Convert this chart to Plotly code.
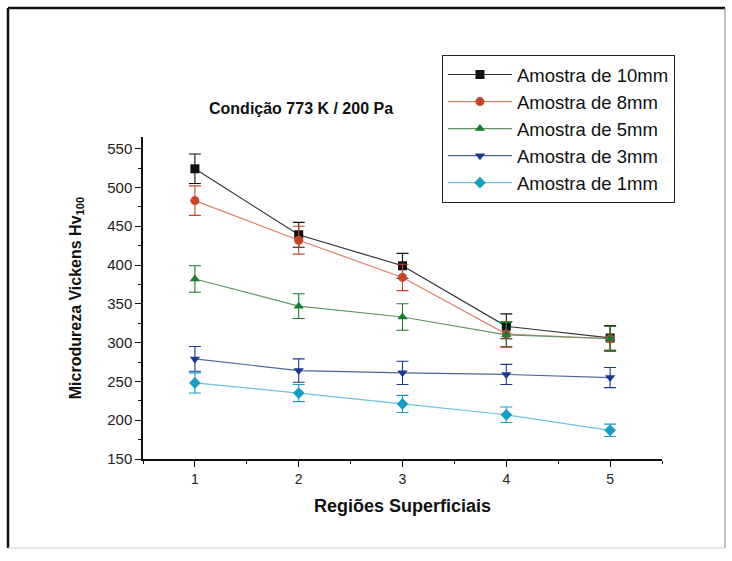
import plotly.graph_objects as go

regions = [1, 2, 3, 4, 5]
series_names = ["Amostra de 10mm", "Amostra de 8mm", "Amostra de 5mm", "Amostra de 3mm", "Amostra de 1mm"]
hv_10mm = [524, 439, 399, 321, 306]
hv_8mm = [483, 432, 384, 311, 305]
hv_5mm = [382, 347, 333, 310, 305]
hv_3mm = [279, 264, 261, 259, 255]
hv_1mm = [248, 235, 221, 207, 187]
err_10mm = [19, 16, 16, 16, 16]
err_8mm = [19, 18, 17, 16, 16]
err_5mm = [17, 16, 17, 16, 16]
err_3mm = [16, 15, 15, 13, 13]
err_1mm = [13, 11, 11, 10, 8]

values = [hv_10mm, hv_8mm, hv_5mm, hv_3mm, hv_1mm]
errors = [err_10mm, err_8mm, err_5mm, err_3mm, err_1mm]
marker_colors = ["#111111", "#c4452f", "#1d7a30", "#1b3a8c", "#1c9cc2"]
line_colors = ["#333333", "#d9826c", "#5f9668", "#4e6596", "#6cc3dc"]
symbols = ["square", "circle", "triangle-up", "triangle-down", "diamond"]

FONT = "Liberation Sans, Arial, sans-serif"

fig = go.Figure()
for i, name in enumerate(series_names):
    fig.add_trace(go.Scatter(
        x=regions, y=values[i], name=name, mode="lines+markers",
        line=dict(color=line_colors[i], width=1.2),
        marker=dict(color=marker_colors[i], symbol=symbols[i], size=9),
        error_y=dict(type="data", array=errors[i], visible=True,
                     color=marker_colors[i], thickness=1.1, width=6),
    ))

fig.update_layout(
    width=732, height=561,
    margin=dict(l=143, r=70, t=137, b=102),
    paper_bgcolor="white", plot_bgcolor="white",
    font=dict(family=FONT, color="#111111"),
    showlegend=True,
    legend=dict(
        x=0.576, y=1.2547, xanchor="left", yanchor="top",
        bgcolor="white", bordercolor="#222222", borderwidth=1,
        font=dict(family=FONT, size=18.5, color="#111111"),
        itemwidth=64, tracegroupgap=0,
    ),
    xaxis=dict(
        range=[0.5, 5.5], tickvals=regions, ticktext=[str(r) for r in regions],
        showgrid=False, zeroline=False, showline=True, linecolor="#111111", linewidth=1.5,
        ticks="outside", ticklen=6, tickwidth=1.2, tickcolor="#111111",
        minor=dict(ticks="outside", ticklen=3, tickwidth=1, tickcolor="#111111", dtick=0.5),
        tickfont=dict(size=14, color="#222222"),
        title=dict(text="<b>Regiões Superficiais</b>", font=dict(size=18, color="#111111"), standoff=14),
    ),
    yaxis=dict(
        range=[150, 565], tickvals=[150, 200, 250, 300, 350, 400, 450, 500, 550],
        showgrid=False, zeroline=False, showline=True, linecolor="#111111", linewidth=1.5,
        ticks="outside", ticklen=6, tickwidth=1.2, tickcolor="#111111",
        minor=dict(ticks="outside", ticklen=3, tickwidth=1, tickcolor="#111111", dtick=25),
        tickfont=dict(size=15, color="#222222"),
        title=dict(text="<b>Microdureza Vickens Hv<sub>100</sub></b>", font=dict(size=16, color="#111111"), standoff=22),
    ),
    annotations=[dict(
        text="<b>Condição 773 K / 200 Pa</b>", x=0.304, y=1.09, xref="paper", yref="paper",
        showarrow=False, xanchor="center", yanchor="middle",
        font=dict(family=FONT, size=16, color="#111111"),
    )],
    shapes=[
        dict(type="line", xref="paper", yref="paper", x0=-0.2601, x1=1.1214, y0=1.4006, y1=1.4006,
             line=dict(color="#111111", width=2.5)),
        dict(type="line", xref="paper", yref="paper", x0=-0.2601, x1=-0.2601, y0=-0.2764, y1=1.4006,
             line=dict(color="#111111", width=2.5)),
        dict(type="line", xref="paper", yref="paper", x0=1.1214, x1=1.1214, y0=-0.2764, y1=1.4006,
             line=dict(color="#888888", width=1)),
        dict(type="line", xref="paper", yref="paper", x0=-0.2601, x1=1.1214, y0=-0.2764, y1=-0.2764,
             line=dict(color="#cccccc", width=1)),
    ],
)

fig.write_html("out.html")
